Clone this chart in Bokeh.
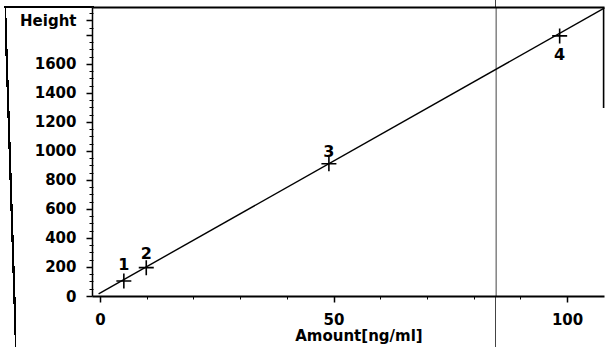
from bokeh.plotting import figure
from bokeh.models import FixedTicker, LinearAxis, ColumnDataSource, Range1d
from bokeh.core.properties import value
from bokeh.embed import file_html
from bokeh.resources import INLINE

# ---- data ----
amounts = [5.0, 9.8, 48.9, 98.3]          # Amount [ng/ml]
heights = [107, 199, 915, 1797]           # Height
point_labels = ["1", "2", "3", "4"]
fit_intercept = 26.0
fit_slope = 18.2
fit_x = [-0.4, 110.0]
x_major = [0, 50, 100]
x_minor = [10, 20, 30, 40, 60, 70, 80, 90]
y_major = [0, 200, 400, 600, 800, 1000, 1200, 1400, 1600, 1800, 1900]
y_minor = [v for v in range(50, 2000, 50) if v % 200 != 0 and v != 1900]
y_title_tick = 1900
x_title = "Amount[ng/ml]"
y_title = "Height"
scan_line_x = 84.7

FONT = "DejaVu Sans"
X0, X1 = -1.71, 107.9
Y0, Y1 = 0, 1993

W, H = 606, 347
p = figure(width=W, height=H, output_backend="svg", toolbar_location=None,
           x_range=Range1d(X0, X1), y_range=Range1d(Y0, Y1),
           min_border_left=92, min_border_right=2, min_border_top=7, min_border_bottom=51)
p.outline_line_color = None
p.grid.visible = False
p.background_fill_color = "white"
p.border_fill_color = None
# border lines of the scanned report page, outside the plot frame
p.styles = {
    "background-color": "white",
    "background-image": ("linear-gradient(#000,#000), "
                         "linear-gradient(to top right, transparent 45%, #000 45%, #000 55%, transparent 55%), "
                         "linear-gradient(#444,#444)"),
    "background-size": "90px 2px, 11px 341px, 1px 347px",
    "background-position": "4px 6px, 5px 6px, 495px 0px",
    "background-repeat": "no-repeat",
}

# x axis
xa = p.xaxis[0]
xa.ticker = FixedTicker(ticks=x_major, minor_ticks=x_minor)
xa.axis_line_width = 2
xa.major_tick_out = 6
xa.major_tick_in = 0
xa.minor_tick_out = 3
xa.minor_tick_in = 0
xa.major_tick_line_width = 1.5
xa.major_label_standoff = 10
xa.major_label_text_font = FONT
xa.major_label_text_font_style = "bold"
xa.major_label_text_font_size = "15px"
xa.major_label_text_color = "black"
xa.axis_label = "\u00a0\u00a0\u00a0\u00a0" + x_title
xa.axis_label_standoff = -1
xa.axis_label_text_baseline = "middle"
xa.axis_label_text_font = FONT
xa.axis_label_text_font_style = "bold"
xa.axis_label_text_font_size = "15px"
xa.axis_label_text_color = "black"

# y axis (the title "Height" sits at the top, in the tick label column)
ya = p.yaxis[0]
ya.ticker = FixedTicker(ticks=y_major, minor_ticks=y_minor)
ya.major_label_overrides = {1800: "", y_title_tick: y_title}
ya.axis_line_width = 1.5
ya.major_tick_out = 6
ya.major_tick_in = 0
ya.minor_tick_out = 3
ya.minor_tick_in = 1
ya.major_tick_line_width = 1.5
ya.major_label_standoff = 10
ya.major_label_text_font = FONT
ya.major_label_text_font_style = "bold"
ya.major_label_text_font_size = "15px"
ya.major_label_text_color = "black"

# top border of the report frame
top_border = LinearAxis(ticker=FixedTicker(ticks=[]), axis_line_width=2,
                        major_tick_out=0, major_tick_in=0, minor_tick_out=0, minor_tick_in=0)
p.add_layout(top_border, "above")

# right border (partial) and the vertical scan line through the frame
p.line(x=[X1 - 0.15, X1 - 0.15], y=[Y1, 1300], line_color="black", line_width=2)
p.line(x=[scan_line_x, scan_line_x], y=[Y0, Y1], line_color="#444444", line_width=1)

# fit line
p.line(x=fit_x, y=[fit_intercept + fit_slope * x for x in fit_x], line_color="black", line_width=1.4)

# points
src = ColumnDataSource(dict(x=amounts, y=heights))
p.scatter(x="x", y="y", source=src, marker="cross", size=15, line_color="black", line_width=1.6)

txt = dict(text_align="center", text_baseline="middle", text_font=value(FONT),
           text_font_style="bold", text_font_size="16px", text_color="black")
p.text(x=amounts[0:1], y=heights[0:1], text=point_labels[0:1], y_offset=-17, **txt)
p.text(x=amounts[1:2], y=heights[1:2], text=point_labels[1:2], y_offset=-15, **txt)
p.text(x=amounts[2:3], y=heights[2:3], text=point_labels[2:3], y_offset=-13, **txt)
p.text(x=amounts[3:4], y=heights[3:4], text=point_labels[3:4], y_offset=18, **txt)

open("out.html", "w").write(file_html(p, INLINE))
